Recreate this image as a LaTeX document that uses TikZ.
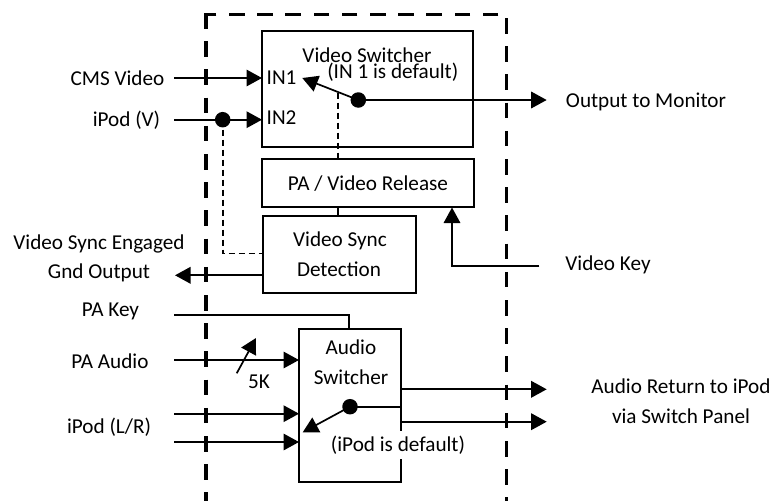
\documentclass[tikz,border=0pt]{standalone}
\usepackage{fontspec}
\setmainfont{Carlito}
\usetikzlibrary{arrows.meta}
\tikzset{
  box/.style={draw,line width=1.7pt,inner sep=0pt,outer sep=0pt,minimum width=#1},
  lbl/.style={inner sep=0pt,outer sep=0pt,text height=16pt,text depth=3.5pt,font=\fontsize{21.2}{21.2}\selectfont},
  wire/.style={line width=1.6pt},
  arr/.style={line width=1.7pt,-{Triangle[length=15.5pt,width=16.5pt]},shorten >=0pt},
  sense/.style={line width=1.6pt,dash pattern=on 6pt off 4pt},
  dot/.style={circle,fill=black,draw=none,minimum size=15.5pt,inner sep=0pt,outer sep=0pt},
  frameline/.style={line width=3.9pt,dash pattern=on 15.6pt off 12.6pt}
}
\begin{document}
\begin{tikzpicture}[x=1pt,y=-1pt]
\useasboundingbox (0,0) rectangle (778,501);
% frame
\coordinate (ftr) at (498.3,14.5);
\coordinate (ftl) at (204.2,14.5);
\coordinate (flt) at (206,13);
\coordinate (flb) at (206,501);
\coordinate (frt) at (506.5,18);
\coordinate (frb) at (506.5,501);
\draw[frameline] (ftr) -- (ftl);
\draw[frameline] (flt) -- (flb);
\draw[frameline] (frt) -- (frb);
% boxes
\node[box=210.7pt,minimum height=116.6pt,anchor=north west] (vs) at (262,30.7) {};
\node[box=212pt,minimum height=48pt,anchor=north west] (pa) at (262,159.3) {};
\node[box=152.7pt,minimum height=77.6pt,anchor=north west] (sd) at (263.3,215.7) {};
\node[box=102.3pt,minimum height=152.4pt,anchor=north west] (as) at (299,329.3) {};
% free ends
\coordinate (cmsin) at (174,78);
\coordinate (ipodvin) at (174,119.7);
\coordinate (gndout) at (175,275.3);
\coordinate (pakey) at (174,315);
\coordinate (paaudio) at (174,360);
\coordinate (ipodl) at (174,413.7);
\coordinate (ipodr) at (174,442);
\coordinate (monout) at (546.7,100);
\coordinate (vidkey) at (539.3,265.7);
\coordinate (aoutl) at (546.7,389.3);
\coordinate (aoutr) at (546.7,421.7);
\coordinate (vstip) at (302.3,78);
\coordinate (astip) at (302.7,432.3);
\coordinate (potfrom) at (236.7,373.3);
\coordinate (potto) at (256,338);
\coordinate (sensetop) at (338,92.7);
\coordinate (papatch) at (338,159.3);
\coordinate (patop) at (338,207.3);
\coordinate (sdtop) at (338,215.7);
\coordinate (sdsense) at (263.3,253.5);
\coordinate (sensecorner) at (222.7,253.5);
\coordinate (keycorner) at (452,265.7);
\coordinate (patip) at (452,207.5);
\coordinate (pakeycorner) at (348.7,315);
\coordinate (astop) at (348.7,329.3);
% dots
\node[dot] (vsdot) at (358.3,100) {};
\node[dot] (vdot) at (222.7,119.7) {};
\node[dot] (asdot) at (350,406.7) {};
% connectors
\draw[arr] (cmsin) -- (vs.west |- cmsin);
\draw[arr] (ipodvin) -- (vs.west |- ipodvin);
\draw[arr] (vsdot.center) -- (monout);
\draw[arr] (vsdot.center) -- (vstip);
\draw[sense] (sensetop) -- (papatch);
\draw[sense] (vdot.center) -- (sensecorner) -- (sdsense);
\draw[wire] (patop) -- (sdtop);
\draw[arr] (sd.west |- gndout) -- (gndout);
\draw[arr] (vidkey) -- (keycorner) -- (patip);
\draw[wire] (pakey) -- (pakeycorner) -- (astop);
\draw[arr] (paaudio) -- (as.west |- paaudio);
\draw[arr] (ipodl) -- (as.west |- ipodl);
\draw[arr] (ipodr) -- (as.west |- ipodr);
\draw[arr] (potfrom) -- (potto);
\draw[arr] (asdot.center) -- (astip);
\draw[wire] (asdot.center) -- (as.east |- asdot);
\draw[arr] (as.east |- aoutl) -- (aoutl);
\draw[arr] (as.east |- aoutr) -- (aoutr);
% labels
\node[lbl] (t1) at (367,56) {Video Switcher};
\node[lbl] (t2) at (392.8,72) {(IN 1 is default)};
\node[lbl,anchor=west] (t3) at (266.7,78) {IN1};
\node[lbl,anchor=west] (t4) at (266.7,118) {IN2};
\node[lbl] (t5) at (117.5,79) {CMS Video};
\node[lbl] (t6) at (126.5,120) {iPod (V)};
\node[lbl] (t7) at (646,101) {Output to Monitor};
\node[lbl] (t8) at (368,184) {PA / Video Release};
\node[lbl] (t9) at (340,240) {Video Sync};
\node[lbl] (t10) at (339,270) {Detection};
\node[lbl] (t11) at (99,243) {Video Sync Engaged};
\node[lbl] (t12) at (99,272) {Gnd Output};
\node[lbl] (t13) at (608,264) {Video Key};
\node[lbl] (t14) at (110.5,310) {PA Key};
\node[lbl] (t15) at (110,362) {PA Audio};
\node[lbl] (t16) at (109,427) {iPod (L/R)};
\node[lbl] (t17) at (259,382) {5K};
\node[lbl] (t18) at (351,348) {Audio};
\node[lbl] (t19) at (351,378) {Switcher};
\node[lbl,fill=white,inner xsep=0pt,inner ysep=4pt] (t20) at (398,445) {(iPod is default)};
\node[lbl] (t21) at (681,387) {Audio Return to iPod};
\node[lbl] (t22) at (681,417) {via Switch Panel};
\end{tikzpicture}
\end{document}
